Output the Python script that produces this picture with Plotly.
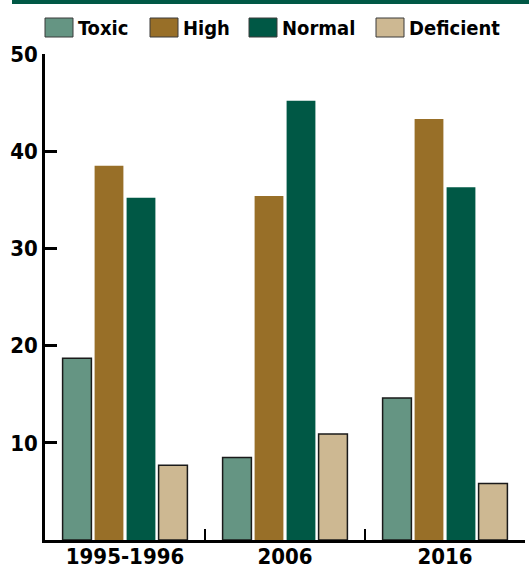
import plotly.graph_objects as go

categories = ["1995-1996", "2006", "2016"]
series_names = ["Toxic", "High", "Normal", "Deficient"]
toxic = [18.7, 8.5, 14.6]
high = [38.5, 35.4, 43.3]
normal = [35.2, 45.2, 36.3]
deficient = [7.7, 10.9, 5.8]
y_ticks = [10, 20, 30, 40, 50]

values = [toxic, high, normal, deficient]
colors = ["#659583", "#986F28", "#005845", "#CDB892"]
outlines = [1.5, 0, 0, 1.5]

W, H = 529, 572
ML, MR, MT, MB = 45, 4, 54, 32
PW = W - ML - MR
PH = H - MT - MB

def px_x(p):
    return (p - ML) / PW

def px_y(p):
    return (H - MB - p) / PH

FONT = "DejaVu Sans Condensed, DejaVu Sans, sans-serif"

fig = go.Figure()
for name, vals, col, lw in zip(series_names, values, colors, outlines):
    fig.add_trace(go.Bar(
        x=categories, y=vals, name=name,
        marker=dict(color=col, line=dict(color="#1a1a1a", width=lw)),
        showlegend=False, hoverinfo="skip",
    ))

shapes = [dict(type="rect", xref="paper", yref="paper",
               x0=px_x(12), x1=px_x(529), y0=px_y(0), y1=px_y(4),
               fillcolor="#005845", line=dict(width=0), layer="above")]
annotations = []
swatch_x = [45, 150, 249, 376]
for name, col, sx in zip(series_names, colors, swatch_x):
    shapes.append(dict(type="rect", xref="paper", yref="paper",
                       x0=px_x(sx), x1=px_x(sx + 28), y0=px_y(18), y1=px_y(37),
                       fillcolor=col, line=dict(color="#3a3a3a", width=1)))
    annotations.append(dict(xref="paper", yref="paper", x=px_x(sx + 31), y=px_y(27.5),
                            xanchor="left", yanchor="middle", showarrow=False,
                            text=name, font=dict(family=FONT, size=20, color="black", weight=700)))

fig.update_layout(
    width=W, height=H,
    margin=dict(l=ML, r=MR, t=MT, b=MB),
    paper_bgcolor="white", plot_bgcolor="white",
    barmode="group", bargap=0.2, bargroupgap=0.1,
    shapes=shapes, annotations=annotations,
    showlegend=False,
)
fig.update_xaxes(
    type="category", tickson="boundaries", ticks="inside", ticklen=11, tickwidth=2,
    tickcolor="black", showline=True, linecolor="black", linewidth=2.5,
    showgrid=False, zeroline=False, automargin=False, ticklabelstandoff=-5,
    tickfont=dict(family=FONT, size=22, color="black", weight=700),
)
fig.update_yaxes(
    range=[0, 50], tickvals=y_ticks, ticks="inside", ticklen=12, tickwidth=2.5,
    tickcolor="black", showline=True, linecolor="black", linewidth=2.5,
    showgrid=False, zeroline=False, automargin=False,
    tickfont=dict(family=FONT, size=22, color="black", weight=700),
)

post = "document.body.style.margin = '0'; document.body.style.overflow = 'hidden';"
fig.write_html("out.html", config={"displayModeBar": False}, post_script=post)
